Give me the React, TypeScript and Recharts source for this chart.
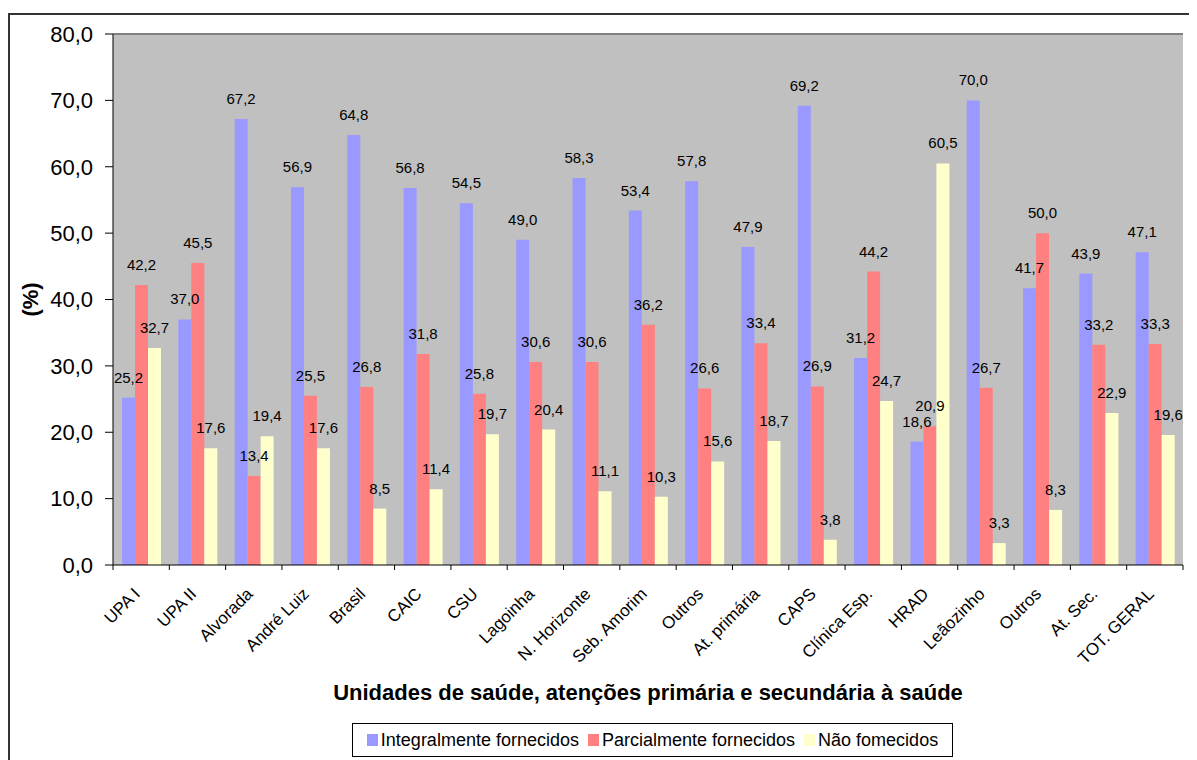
import {
    BarChart,
    Bar,
    XAxis,
    YAxis,
    CartesianGrid,
    Legend,
    LabelList,
    ReferenceLine,
} from 'recharts';

const categories = [
    'UPA I',
    'UPA II',
    'Alvorada',
    'André Luiz',
    'Brasil',
    'CAIC',
    'CSU',
    'Lagoinha',
    'N. Horizonte',
    'Seb. Amorim',
    'Outros',
    'At. primária',
    'CAPS',
    'Clínica Esp.',
    'HRAD',
    'Leãozinho',
    'Outros',
    'At. Sec.',
    'TOT. GERAL',
];

const integralmente = [25.2, 37.0, 67.2, 56.9, 64.8, 56.8, 54.5, 49.0, 58.3, 53.4, 57.8, 47.9, 69.2, 31.2, 18.6, 70.0, 41.7, 43.9, 47.1];
const parcialmente = [42.2, 45.5, 13.4, 25.5, 26.8, 31.8, 25.8, 30.6, 30.6, 36.2, 26.6, 33.4, 26.9, 44.2, 20.9, 26.7, 50.0, 33.2, 33.3];
const naoFornecidos = [32.7, 17.6, 19.4, 17.6, 8.5, 11.4, 19.7, 20.4, 11.1, 10.3, 15.6, 18.7, 3.8, 24.7, 60.5, 3.3, 8.3, 22.9, 19.6];

const yTicks = [0, 10, 20, 30, 40, 50, 60, 70, 80];

const seriesNames = ['Integralmente fornecidos', 'Parcialmente fornecidos', 'Não fomecidos'];
const seriesKeys = ['integral', 'parcial', 'nao'];
const seriesColors = ['#9999ff', '#ff8080', '#ffffcc'];

const data = categories.map((name, i) => ({
    name,
    integral: integralmente[i],
    parcial: parcialmente[i],
    nao: naoFornecidos[i],
}));

const FONT = '"Liberation Sans", Arial, sans-serif';
const CHART_W = 1187;
const CHART_H = 745;
const MARGIN = { top: 19, right: 14, left: 0, bottom: 45 };
const Y_AXIS_W = 103;
const X_AXIS_H = 150;
const BAND = (CHART_W - MARGIN.left - MARGIN.right - Y_AXIS_W) / categories.length;

const fmt = (v: number) => v.toFixed(1).replace('.', ',');

// category labels sit at the band centre, tick marks at the band edges
function CategoryTick({ x, y, payload, index }: any) {
    const left = x - BAND / 2;
    const ax = x;
    const ay = y + 25;
    return (
        <g>
            <line x1={left} y1={y - 5} x2={left} y2={y} stroke="#000" />
            {index === categories.length - 1 && (
                <line x1={x + BAND / 2} y1={y - 5} x2={x + BAND / 2} y2={y} stroke="#000" />
            )}
            <text
                x={ax}
                y={ay}
                transform={`rotate(-45 ${ax} ${ay})`}
                textAnchor="end"
                fontSize={17}
                fontFamily={FONT}
                fill="#000"
            >
                {payload.value}
            </text>
        </g>
    );
}

function YTitle({ viewBox }: any) {
    const cx = viewBox.x + 20;
    const cy = viewBox.y + viewBox.height / 2;
    return (
        <text
            x={cx}
            y={cy}
            transform={`rotate(-90 ${cx} ${cy})`}
            textAnchor="middle"
            dominantBaseline="central"
            fontSize={22}
            fontWeight="bold"
            fontFamily={FONT}
            fill="#000"
        >
            (%)
        </text>
    );
}

function XTitle({ viewBox }: any) {
    return (
        <text
            x={viewBox.x + viewBox.width / 2}
            y={viewBox.y + 135}
            textAnchor="middle"
            fontSize={22}
            fontWeight="bold"
            fontFamily={FONT}
            fill="#000"
        >
            Unidades de saúde, atenções primária e secundária à saúde
        </text>
    );
}

function LegendBox() {
    return (
        <div
            style={{
                border: '1px solid #000',
                background: '#fff',
                height: 34,
                boxSizing: 'border-box',
                display: 'flex',
                alignItems: 'center',
                justifyContent: 'center',
                fontFamily: FONT,
                fontSize: 18,
                color: '#000',
            }}
        >
            {seriesNames.map((n, i) => (
                <span key={n} style={{ display: 'flex', alignItems: 'center', marginRight: i < 2 ? 9 : 0 }}>
                    <span
                        style={{
                            width: 11,
                            height: 12,
                            background: seriesColors[i],
                            marginRight: 3,
                            display: 'inline-block',
                        }}
                    />
                    {n}
                </span>
            ))}
        </div>
    );
}

export default function App() {
    return (
        <div style={{ paddingTop: 5 }}>
            <div
                style={{
                    borderTop: '2px solid #333',
                    borderLeft: '2px solid #333',
                    width: CHART_W,
                    height: CHART_H,
                }}
            >
                <BarChart
                    width={CHART_W}
                    height={CHART_H}
                    data={data}
                    margin={MARGIN}
                    barSize={13}
                    barGap={0}
                >
                    <CartesianGrid horizontal={false} vertical={false} fill="#c0c0c0" />
                    <XAxis
                        dataKey="name"
                        interval={0}
                        height={X_AXIS_H}
                        tickLine={false}
                        tickSize={5}
                        tickMargin={0}
                        axisLine={{ stroke: '#000' }}
                        tick={<CategoryTick />}
                        label={<XTitle />}
                    />
                    <YAxis
                        width={Y_AXIS_W}
                        domain={[0, 80]}
                        ticks={yTicks}
                        tickFormatter={fmt}
                        tickSize={8}
                        tickMargin={12}
                        tickLine={{ stroke: '#000' }}
                        axisLine={{ stroke: '#000' }}
                        tick={{ fontSize: 22, fill: '#000', fontFamily: FONT }}
                        label={<YTitle />}
                    />
                    <YAxis
                        yAxisId="r"
                        orientation="right"
                        width={0}
                        domain={[0, 80]}
                        tick={false}
                        tickLine={false}
                        axisLine={{ stroke: '#808080', strokeWidth: 2 }}
                    />
                    <ReferenceLine y={80} stroke="#808080" strokeWidth={2} />
                    <Legend
                        layout="horizontal"
                        verticalAlign="middle"
                        align="center"
                        width={601}
                        wrapperStyle={{ left: 342, top: 708 }}
                        content={<LegendBox />}
                    />
                    {seriesKeys.map((k, i) => (
                        <Bar
                            key={k}
                            dataKey={k}
                            name={seriesNames[i]}
                            fill={seriesColors[i]}
                            isAnimationActive={false}
                        >
                            <LabelList
                                dataKey={k}
                                position="top"
                                offset={15}
                                formatter={(v: any) => fmt(Number(v))}
                                style={{ fontSize: 15, fill: '#000', fontFamily: FONT }}
                            />
                        </Bar>
                    ))}
                </BarChart>
            </div>
        </div>
    );
}
